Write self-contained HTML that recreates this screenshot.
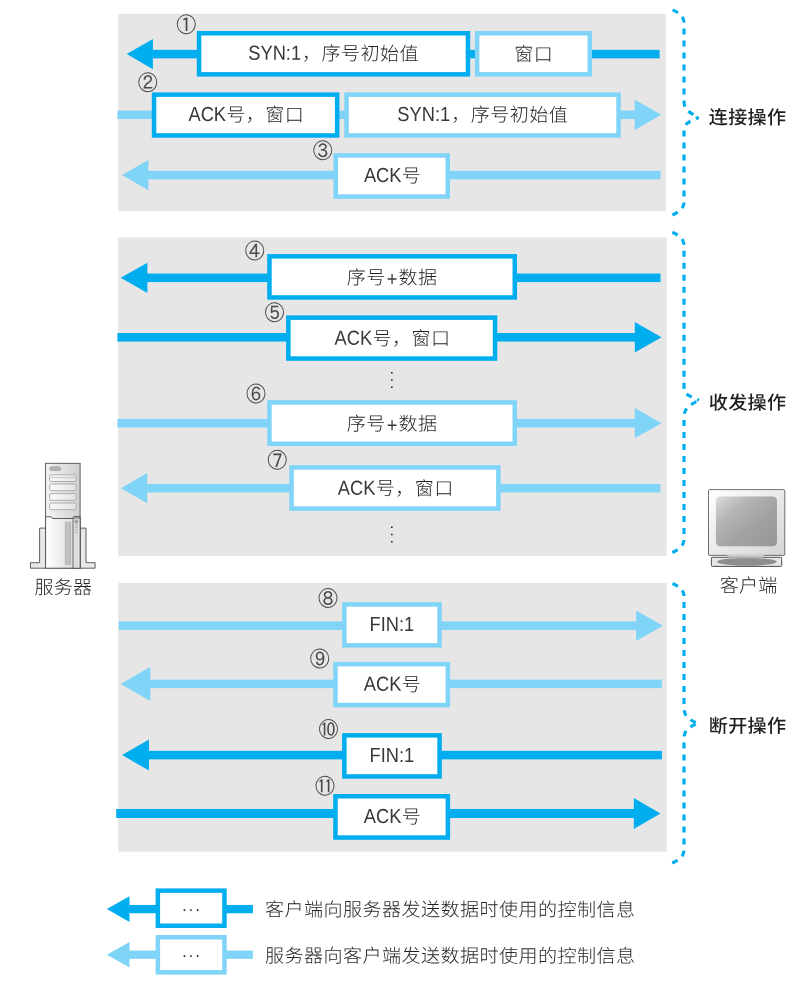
<!DOCTYPE html>
<html lang="zh-CN">
<head>
<meta charset="utf-8">
<title>TCP 连接、收发、断开操作</title>
<style>
html,body{margin:0;padding:0;background:#fff;}
body{width:810px;height:986px;overflow:hidden;}
svg{display:block;will-change:transform;}
text{font-family:"Liberation Sans", "Noto Sans CJK SC", sans-serif;fill:#231F20;}
.t{font-size:18.7px;font-weight:300;}
.l{font-size:18.7px;font-weight:500;}
.en{font-size:20.3px;letter-spacing:0;fill:#383838;}
.c{font-size:20px;fill:#4a4a4a;font-family:"IPAGothic","Noto Sans CJK SC","Liberation Sans",sans-serif;}
.v{font-size:15px;letter-spacing:2.3px;}
.d{font-size:16px;letter-spacing:1.34px;}
</style>
</head>
<body>
<svg width="810" height="986" viewBox="0 0 810 986">
<defs>
<linearGradient id="gTower" x1="0" y1="0" x2="1" y2="0"><stop offset="0" stop-color="#f4f4f4"/><stop offset="1" stop-color="#cfcfcf"/></linearGradient>
<linearGradient id="gBay" x1="0" y1="0" x2="1" y2="0"><stop offset="0" stop-color="#fbfbfb"/><stop offset="1" stop-color="#e2e2e2"/></linearGradient>
<linearGradient id="gDoor" x1="0" y1="0" x2="1" y2="0"><stop offset="0" stop-color="#ffffff"/><stop offset="1" stop-color="#d6d6d6"/></linearGradient>
<linearGradient id="gMon" x1="0" y1="0" x2="1" y2="1"><stop offset="0" stop-color="#ffffff"/><stop offset="1" stop-color="#d4d4d4"/></linearGradient>
<linearGradient id="gScr" x1="0" y1="0" x2="1" y2="1"><stop offset="0" stop-color="#dedede"/><stop offset="0.3" stop-color="#b5b3b3"/><stop offset="0.6" stop-color="#a3a1a1"/><stop offset="1" stop-color="#979595"/></linearGradient>
<linearGradient id="gNeck" x1="0" y1="0" x2="0" y2="1"><stop offset="0" stop-color="#d2d2d2"/><stop offset="1" stop-color="#a6a6a6"/></linearGradient>
</defs>
<rect x="118.2" y="13.8" width="547.6" height="197.4" fill="#E6E6E6"/>
<rect x="118.2" y="237.5" width="548.6" height="318.7" fill="#E6E6E6"/>
<rect x="118.2" y="582.9" width="548.6" height="268.8" fill="#E6E6E6"/>
<rect x="152.4" y="49.85" width="507.2" height="8.5" fill="#00ADEE"/>
<polygon points="126.7,54.1 152.9,39 152.9,69.2" fill="#00ADEE"/>
<rect x="199.05" y="33.25" width="268.9" height="41.1" fill="#fff" stroke="#00ADEE" stroke-width="4.5"/>
<text class="t" transform="rotate(0.05 333.5 59.9)"><tspan class="en" x="248.31" y="59.9" textLength="52.8" lengthAdjust="spacingAndGlyphs">SYN:1</tspan><tspan x="302.11" y="60.1" textLength="117" lengthAdjust="spacingAndGlyphs" style="letter-spacing:0.42px">，序号初始值</tspan></text>
<rect x="477.15" y="33.25" width="112.6" height="41.1" fill="#fff" stroke="#80D4F7" stroke-width="4.5"/>
<text class="t" transform="rotate(0.05 533.45 60.7)"><tspan x="514.16" y="60.9" textLength="39" lengthAdjust="spacingAndGlyphs" style="letter-spacing:0.42px">窗口</tspan></text>
<text class="c" text-anchor="middle" transform="translate(186.2 32.2) scale(1 1.06) rotate(0.05)">①</text>
<rect x="117.4" y="110.55" width="517.8" height="8.5" fill="#80D4F7"/>
<polygon points="661.3,114.8 634.7,99.7 634.7,129.9" fill="#80D4F7"/>
<rect x="154.05" y="94.65" width="183.1" height="40.8" fill="#fff" stroke="#00ADEE" stroke-width="4.5"/>
<text class="t" transform="rotate(0.05 245.6 121.15)"><tspan class="en" x="188.48" y="121.15" textLength="37.57" lengthAdjust="spacingAndGlyphs">ACK</tspan><tspan x="226.35" y="121.35" textLength="78" lengthAdjust="spacingAndGlyphs" style="letter-spacing:0.42px">号，窗口</tspan></text>
<rect x="346.55" y="94.65" width="272" height="40.8" fill="#fff" stroke="#80D4F7" stroke-width="4.5"/>
<text class="t" transform="rotate(0.05 482.55 121.15)"><tspan class="en" x="397.36" y="121.15" textLength="52.8" lengthAdjust="spacingAndGlyphs">SYN:1</tspan><tspan x="451.16" y="121.35" textLength="117" lengthAdjust="spacingAndGlyphs" style="letter-spacing:0.42px">，序号初始值</tspan></text>
<text class="c" text-anchor="middle" transform="translate(147.7 90.3) scale(1 1.06) rotate(0.05)">②</text>
<rect x="147.9" y="170.85" width="512.6" height="8.5" fill="#80D4F7"/>
<polygon points="122.1,175.1 148.4,160 148.4,190.2" fill="#80D4F7"/>
<rect x="335.75" y="155.45" width="112" height="41.1" fill="#fff" stroke="#80D4F7" stroke-width="4.5"/>
<text class="t" transform="rotate(0.05 391.75 182.1)"><tspan class="en" x="363.88" y="182.1" textLength="37.57" lengthAdjust="spacingAndGlyphs">ACK</tspan><tspan x="401.75" y="182.3" textLength="19.5" lengthAdjust="spacingAndGlyphs" style="letter-spacing:0.42px">号</tspan></text>
<text class="c" text-anchor="middle" transform="translate(322.7 158.2) scale(1 1.06) rotate(0.05)">③</text>
<rect x="146.9" y="273.55" width="513.6" height="8.5" fill="#00ADEE"/>
<polygon points="120.7,277.8 147.4,262.7 147.4,292.9" fill="#00ADEE"/>
<rect x="269.45" y="256.35" width="245.3" height="41.1" fill="#fff" stroke="#00ADEE" stroke-width="4.5"/>
<text class="t" transform="rotate(0.05 392.1 283.8)"><tspan x="346.88" y="284" textLength="39" lengthAdjust="spacingAndGlyphs" style="letter-spacing:0.42px">序号</tspan><tspan class="en" x="386.88" y="285.7" textLength="10.67" lengthAdjust="spacingAndGlyphs">+</tspan><tspan x="398.55" y="284" textLength="39" lengthAdjust="spacingAndGlyphs" style="letter-spacing:0.42px">数据</tspan></text>
<text class="c" text-anchor="middle" transform="translate(254.8 258.4) scale(1 1.06) rotate(0.05)">④</text>
<rect x="117.4" y="333.05" width="517.9" height="8.5" fill="#00ADEE"/>
<polygon points="661.5,337.3 634.8,322 634.8,352.6" fill="#00ADEE"/>
<rect x="288.35" y="317.65" width="206.7" height="40.9" fill="#fff" stroke="#00ADEE" stroke-width="4.5"/>
<text class="t" transform="rotate(0.05 391.7 344.8)"><tspan class="en" x="334.58" y="344.8" textLength="37.57" lengthAdjust="spacingAndGlyphs">ACK</tspan><tspan x="372.45" y="345" textLength="78" lengthAdjust="spacingAndGlyphs" style="letter-spacing:0.42px">号，窗口</tspan></text>
<text class="c" text-anchor="middle" transform="translate(274.4 320.3) scale(1 1.06) rotate(0.05)">⑤</text>
<rect x="117.4" y="418.95" width="517.9" height="8.5" fill="#80D4F7"/>
<polygon points="661.5,423.2 634.8,408.1 634.8,438.3" fill="#80D4F7"/>
<rect x="269.45" y="402.45" width="245.3" height="41.3" fill="#fff" stroke="#80D4F7" stroke-width="4.5"/>
<text class="t" transform="rotate(0.05 392.1 430)"><tspan x="346.88" y="430.2" textLength="39" lengthAdjust="spacingAndGlyphs" style="letter-spacing:0.42px">序号</tspan><tspan class="en" x="386.88" y="431.9" textLength="10.67" lengthAdjust="spacingAndGlyphs">+</tspan><tspan x="398.55" y="430.2" textLength="39" lengthAdjust="spacingAndGlyphs" style="letter-spacing:0.42px">数据</tspan></text>
<text class="c" text-anchor="middle" transform="translate(256 401.4) scale(1 1.06) rotate(0.05)">⑥</text>
<rect x="146.7" y="483.95" width="513.7" height="8.5" fill="#80D4F7"/>
<polygon points="120.9,488.2 147.2,473.1 147.2,503.3" fill="#80D4F7"/>
<rect x="291.55" y="467.45" width="206.8" height="41.1" fill="#fff" stroke="#80D4F7" stroke-width="4.5"/>
<text class="t" transform="rotate(0.05 394.95 494.7)"><tspan class="en" x="337.83" y="494.7" textLength="37.57" lengthAdjust="spacingAndGlyphs">ACK</tspan><tspan x="375.7" y="494.9" textLength="78" lengthAdjust="spacingAndGlyphs" style="letter-spacing:0.42px">号，窗口</tspan></text>
<text class="c" text-anchor="middle" transform="translate(277.3 467.8) scale(1 1.06) rotate(0.05)">⑦</text>
<rect x="118.8" y="621.45" width="517.9" height="8.5" fill="#80D4F7"/>
<polygon points="662.9,625.7 636.2,610.4 636.2,641" fill="#80D4F7"/>
<rect x="344.35" y="604.45" width="95.2" height="40.9" fill="#fff" stroke="#80D4F7" stroke-width="4.5"/>
<text class="t" transform="rotate(0.05 391.95 631)"><tspan class="en" x="369.62" y="631" textLength="44.67" lengthAdjust="spacingAndGlyphs">FIN:1</tspan></text>
<text class="c" text-anchor="middle" transform="translate(327.9 605.9) scale(1 1.06) rotate(0.05)">⑧</text>
<rect x="149.9" y="679.65" width="512" height="8.5" fill="#80D4F7"/>
<polygon points="120.7,683.9 150.4,666.8 150.4,701" fill="#80D4F7"/>
<rect x="335.45" y="664.15" width="112.4" height="40.9" fill="#fff" stroke="#80D4F7" stroke-width="4.5"/>
<text class="t" transform="rotate(0.05 391.65 690.7)"><tspan class="en" x="363.78" y="690.7" textLength="37.57" lengthAdjust="spacingAndGlyphs">ACK</tspan><tspan x="401.65" y="690.9" textLength="19.5" lengthAdjust="spacingAndGlyphs" style="letter-spacing:0.42px">号</tspan></text>
<text class="c" text-anchor="middle" transform="translate(319.7 666.6) scale(1 1.06) rotate(0.05)">⑨</text>
<rect x="148.5" y="750.85" width="513.4" height="8.5" fill="#00ADEE"/>
<polygon points="122.1,755.1 149,739.6 149,770.6" fill="#00ADEE"/>
<rect x="344.35" y="735.35" width="95.2" height="41.1" fill="#fff" stroke="#00ADEE" stroke-width="4.5"/>
<text class="t" transform="rotate(0.05 391.95 762)"><tspan class="en" x="369.62" y="762" textLength="44.67" lengthAdjust="spacingAndGlyphs">FIN:1</tspan></text>
<text class="c" text-anchor="middle" transform="translate(328.5 736.9) scale(1 1.06) rotate(0.05)">⑩</text>
<rect x="116.2" y="809" width="518.1" height="9" fill="#00ADEE"/>
<polygon points="660.5,813.5 633.8,798 633.8,829" fill="#00ADEE"/>
<rect x="335.45" y="796.25" width="112.4" height="41.3" fill="#fff" stroke="#00ADEE" stroke-width="4.5"/>
<text class="t" transform="rotate(0.05 391.65 823)"><tspan class="en" x="363.78" y="823" textLength="37.57" lengthAdjust="spacingAndGlyphs">ACK</tspan><tspan x="401.65" y="823.2" textLength="19.5" lengthAdjust="spacingAndGlyphs" style="letter-spacing:0.42px">号</tspan></text>
<text class="c" text-anchor="middle" transform="translate(325 793.8) scale(1 1.06) rotate(0.05)">⑪</text>
<text class="v" x="388.4" y="381.1" text-anchor="middle" transform="rotate(90 388.4 381.1)">···</text>
<text class="v" x="388.4" y="535.6" text-anchor="middle" transform="rotate(90 388.4 535.6)">···</text>
<path d="M672.2,9.7 C678.2,12.3 684,16.2 684,22.7 L684,101.3 C684,110.58 690.3,113 698.8,117.3" fill="none" stroke="#00ADEE" stroke-width="3.2" stroke-dasharray="6 6" stroke-dashoffset="11.55"/>
<path d="M672.2,215.1 C678.2,212.5 684,208.6 684,202.1 L684,130.3 C684,122.76 690.3,121.6 698.8,117.3" fill="none" stroke="#00ADEE" stroke-width="3.2" stroke-dasharray="6 6" stroke-dashoffset="11.75"/>
<path d="M672.2,232.2 C678.2,234.8 684,238.7 684,245.2 L684,388.3 C684,395.26 690.5,396 699,400.3" fill="none" stroke="#00ADEE" stroke-width="3.2" stroke-dasharray="6 6" stroke-dashoffset="11.85"/>
<path d="M672.2,552.6 C678.2,550 684,546.1 684,539.6 L684,417.3 C684,407.44 690.5,404.6 699,400.3" fill="none" stroke="#00ADEE" stroke-width="3.2" stroke-dasharray="6 6" stroke-dashoffset="11.85"/>
<path d="M672.2,583.3 C678.2,585.9 684,589.8 684,596.3 L684,707.3 C684,716.58 688.5,719 697,723.3" fill="none" stroke="#00ADEE" stroke-width="3.2" stroke-dasharray="6 6" stroke-dashoffset="11.65"/>
<path d="M672.2,863.1 C678.2,860.5 684,856.6 684,850.1 L684,739.3 C684,730.02 688.5,727.6 697,723.3" fill="none" stroke="#00ADEE" stroke-width="3.2" stroke-dasharray="6 6" stroke-dashoffset="11.95"/>
<text class="l" transform="rotate(0.05 708.7 123.65)"><tspan x="708.7" y="123.85" textLength="77.8" lengthAdjust="spacingAndGlyphs" style="letter-spacing:0.37px">连接操作</tspan></text>
<text class="l" transform="rotate(0.05 708.7 409.1)"><tspan x="708.7" y="409.3" textLength="77.8" lengthAdjust="spacingAndGlyphs" style="letter-spacing:0.37px">收发操作</tspan></text>
<text class="l" transform="rotate(0.05 708.7 732.25)"><tspan x="708.7" y="732.45" textLength="77.8" lengthAdjust="spacingAndGlyphs" style="letter-spacing:0.37px">断开操作</tspan></text>
<g stroke-linejoin="miter">
<path d="M39.6,528.1 H45.6 V568.2 H30.5 V562.7 H39.6 Z" fill="#e8e8e8" stroke="#4f4f4f" stroke-width="0.9"/>
<path d="M86,528.1 H80 V568.2 H95.1 V562.7 H86 Z" fill="#e8e8e8" stroke="#4f4f4f" stroke-width="0.9"/>
<rect x="45.6" y="463.3" width="34.5" height="104.9" fill="url(#gTower)" stroke="#4f4f4f" stroke-width="0.9"/>
<path d="M45.6,516.8 H51.2 L52.6,518.5 H72.6 L74,516.6 H80.1 V568.2 H45.6 Z" fill="url(#gDoor)" stroke="#4f4f4f" stroke-width="0.9"/>
<rect x="73.0" y="518" width="7.1" height="50.2" fill="#dddddd" stroke="#4f4f4f" stroke-width="0.8"/>
<line x1="65.3" y1="521.7" x2="65.3" y2="565.1" stroke="#8e8e8e" stroke-width="0.6"/>
<line x1="66.65" y1="521.7" x2="66.65" y2="565.1" stroke="#8e8e8e" stroke-width="0.6"/>
<line x1="68" y1="521.7" x2="68" y2="565.1" stroke="#8e8e8e" stroke-width="0.6"/>
<line x1="69.3" y1="521.7" x2="69.3" y2="565.1" stroke="#8e8e8e" stroke-width="0.6"/>
<line x1="70.6" y1="521.7" x2="70.6" y2="565.1" stroke="#8e8e8e" stroke-width="0.6"/>
<circle cx="76.4" cy="521.6" r="1.7" fill="#a3a3a3" stroke="#7d7d7d" stroke-width="0.4"/>
<line x1="75.1" y1="525.2" x2="77.8" y2="525.2" stroke="#8e8e8e" stroke-width="0.6"/>
<line x1="75.1" y1="527.6" x2="77.8" y2="527.6" stroke="#8e8e8e" stroke-width="0.6"/>
<line x1="75.1" y1="530" x2="77.8" y2="530" stroke="#8e8e8e" stroke-width="0.6"/>
<line x1="75.1" y1="532.3" x2="77.8" y2="532.3" stroke="#8e8e8e" stroke-width="0.6"/>
<rect x="49.8" y="466.8" width="10.8" height="3.7" rx="1.6" fill="#b5b5b5" stroke="#929292" stroke-width="0.6"/>
<rect x="49.6" y="474.8" width="26.6" height="6.7" rx="1.5" fill="url(#gBay)" stroke="#aeaeae" stroke-width="1"/>
<rect x="49.6" y="484" width="26.6" height="6.7" rx="1.5" fill="url(#gBay)" stroke="#aeaeae" stroke-width="1"/>
<rect x="49.6" y="493.6" width="26.6" height="6.7" rx="1.5" fill="url(#gBay)" stroke="#aeaeae" stroke-width="1"/>
<rect x="49.6" y="503" width="26.6" height="6.7" rx="1.5" fill="url(#gBay)" stroke="#aeaeae" stroke-width="1"/>
<line x1="50.6" y1="477.6" x2="75.2" y2="477.6" stroke="#b4b4b4" stroke-width="0.7"/>
</g>
<text class="t" transform="rotate(0.05 63.3 593.5)"><tspan x="34.46" y="593.7" textLength="57.9" lengthAdjust="spacingAndGlyphs" style="letter-spacing:0.22px">服务器</tspan></text>
<g>
<rect x="711.4" y="557.3" width="70.3" height="9.1" rx="0.8" fill="#e6e6e6" stroke="#4f4f4f" stroke-width="1"/>
<ellipse cx="746.9" cy="561.8" rx="29.9" ry="3.9" fill="#8f8d8d"/>
<rect x="708.5" y="489.6" width="76.3" height="65.8" rx="1.2" fill="url(#gMon)" stroke="#4f4f4f" stroke-width="0.8"/>
<path d="M727.2,555.1 H764 L762.4,558.3 H729 Z" fill="url(#gNeck)"/>
<rect x="715.9" y="496.5" width="61.1" height="49.8" rx="4.2" fill="url(#gScr)"/>
</g>
<text class="t" transform="rotate(0.05 748.5 591.9)"><tspan x="719.66" y="592.1" textLength="57.9" lengthAdjust="spacingAndGlyphs" style="letter-spacing:0.22px">客户端</tspan></text>
<rect x="129" y="904.95" width="123.9" height="8.3" fill="#00ADEE"/>
<polygon points="106.8,909.1 129.5,896.3 129.5,921.9" fill="#00ADEE"/>
<rect x="157.85" y="890.65" width="66.6" height="35.1" fill="#fff" stroke="#00ADEE" stroke-width="4.5"/>
<text class="d" x="191.7" y="915" text-anchor="middle">···</text>
<text class="t" transform="rotate(0.05 264.9 915.7)"><tspan x="264.9" y="915.9" textLength="370.69" lengthAdjust="spacingAndGlyphs" style="letter-spacing:0.43px">客户端向服务器发送数据时使用的控制信息</tspan></text>
<rect x="129" y="950.55" width="123.9" height="8.3" fill="#80D4F7"/>
<polygon points="106.8,954.7 129.5,941.9 129.5,967.5" fill="#80D4F7"/>
<rect x="157.85" y="937.25" width="66.6" height="35.1" fill="#fff" stroke="#80D4F7" stroke-width="4.5"/>
<text class="d" x="191.7" y="960.8" text-anchor="middle">···</text>
<text class="t" transform="rotate(0.05 264.9 962)"><tspan x="264.9" y="962.2" textLength="370.69" lengthAdjust="spacingAndGlyphs" style="letter-spacing:0.43px">服务器向客户端发送数据时使用的控制信息</tspan></text>
</svg>
</body>
</html>
